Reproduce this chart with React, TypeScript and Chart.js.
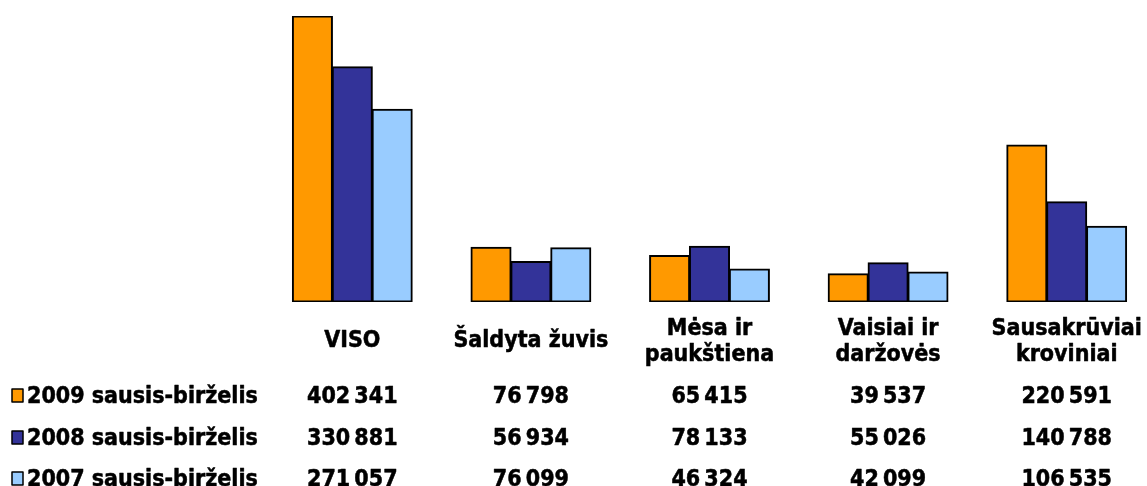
import React, { useEffect, useRef } from "react";
import { Chart, registerables } from "chart.js";

Chart.register(...registerables);

const categories: string[][] = [
  ["VISO"],
  ["Šaldyta žuvis"],
  ["Mėsa ir", "paukštiena"],
  ["Vaisiai ir", "daržovės"],
  ["Sausakrūviai", "kroviniai"],
];
const seriesNames = ["2009 sausis-birželis", "2008 sausis-birželis", "2007 sausis-birželis"];
const values2009 = [402341, 76798, 65415, 39537, 220591];
const values2008 = [330881, 56934, 78133, 55026, 140788];
const values2007 = [271057, 76099, 46324, 42099, 106535];
const colors = ["#FF9900", "#333399", "#99CCFF"];

const FONT = "bold 23px 'DejaVu Sans Condensed', 'DejaVu Sans', sans-serif";

function fmt(v: number): string {
  return v.toString().replace(/\B(?=(\d{3})+(?!\d))/g, "\u2009");
}

function boldText(ctx: CanvasRenderingContext2D, s: string, x: number, y: number) {
  ctx.fillText(s, x, y);
  ctx.strokeText(s, x, y);
}

const tablePlugin = {
  id: "dataTable",
  afterDraw(chart: any) {
    const ctx = chart.ctx as CanvasRenderingContext2D;
    const x = chart.scales.x;
    const all = [values2009, values2008, values2007];
    ctx.save();
    ctx.fillStyle = "#000";
    ctx.strokeStyle = "#000";
    ctx.lineWidth = 0.5;
    ctx.lineJoin = "round";
    ctx.font = FONT;
    ctx.textAlign = "center";
    ctx.textBaseline = "middle";
    categories.forEach((lines, i) => {
      const cx = x.getPixelForValue(i);
      if (lines.length === 1) {
        boldText(ctx, lines[0], cx, 341);
      } else {
        boldText(ctx, lines[0], cx, 329);
        boldText(ctx, lines[1], cx, 355);
      }
    });
    const rowY = [397, 439, 480];
    all.forEach((vals, r) => {
      vals.forEach((v, i) => {
        const cx = x.getPixelForValue(i);
        boldText(ctx, fmt(v), cx, rowY[r]);
      });
      ctx.fillStyle = colors[r];
      ctx.fillRect(12, rowY[r] - 8, 11, 13);
      ctx.lineWidth = 1.5;
      ctx.strokeRect(12, rowY[r] - 8, 11, 13);
      ctx.lineWidth = 0.5;
      ctx.fillStyle = "#000";
      ctx.textAlign = "left";
      boldText(ctx, seriesNames[r], 27, rowY[r]);
      ctx.textAlign = "center";
    });
    ctx.restore();
  },
};

export default function App() {
  const ref = useRef<HTMLCanvasElement | null>(null);
  useEffect(() => {
    document.body.style.margin = "0";
    const canvas = ref.current!;
    const common = { borderColor: "#000", borderWidth: 2, borderSkipped: false as const, inflateAmount: 0.6 };
    const chart = new Chart(canvas, {
      type: "bar",
      data: {
        labels: categories.map((c) => c.join(" ")),
        datasets: [
          { label: seriesNames[0], data: values2009, backgroundColor: colors[0], ...common },
          { label: seriesNames[1], data: values2008, backgroundColor: colors[1], ...common },
          { label: seriesNames[2], data: values2007, backgroundColor: colors[2], ...common },
        ],
      },
      options: {
        responsive: false,
        animation: false,
        devicePixelRatio: 1,
        layout: { padding: { top: 16, bottom: 184, left: 263, right: 4 } },
        plugins: { legend: { display: false }, tooltip: { enabled: false } },
        datasets: { bar: { categoryPercentage: 0.67, barPercentage: 1.0 } },
        scales: {
          x: { display: false, offset: true },
          y: { display: false, min: 0, max: 402341 },
        },
      },
      plugins: [tablePlugin],
    });
    return () => chart.destroy();
  }, []);
  return (
    <div style={{ position: "relative", width: 1147, height: 486, overflow: "hidden", background: "#fff" }}>
      <canvas ref={ref} width={1160} height={486} style={{ position: "absolute", left: 0, top: 0, width: 1160, height: 486 }} />
    </div>
  );
}
